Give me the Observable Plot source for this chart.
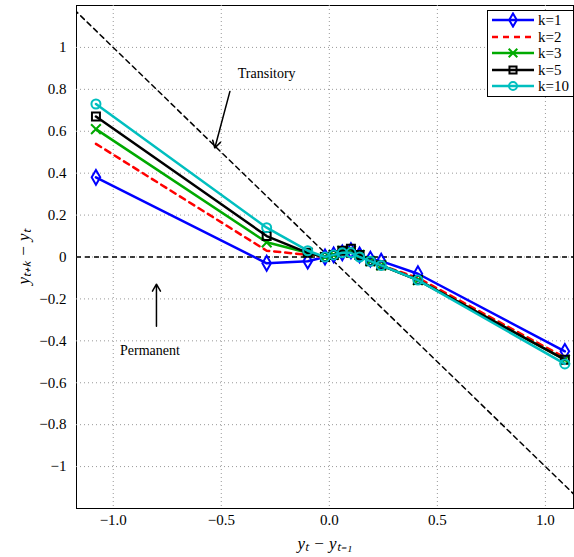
<!DOCTYPE html>
<html><head><meta charset="utf-8">
<script src="https://cdn.jsdelivr.net/npm/d3@7"></script>
<script src="https://cdn.jsdelivr.net/npm/@observablehq/plot@0.6"></script>
<style>
body{margin:0;background:#fff;font-family:"Liberation Serif",serif}
#wrap{position:relative;width:574px;height:557px}
#legend{position:absolute;left:487px;top:10px;border:1px solid #000;background:#fff;padding:1px 4px 1px 2px;font-size:15px;line-height:16.5px}
#legend div{display:flex;align-items:center}
#legend svg{margin-right:2px}
</style></head><body>
<div id="wrap"><div id="chart"></div><div id="legend"></div></div>
<script>
// x positions shared by all horizons
const xs = [-1.08, -0.29, -0.10, -0.02, 0.02, 0.06, 0.10, 0.14, 0.19, 0.24, 0.41, 1.09]
const k1  = [0.38, -0.03, -0.02, 0.00, 0.01, 0.02, 0.03, 0.01, -0.01, -0.02, -0.08, -0.45]
const k2  = [0.54, 0.03, 0.01, 0.00, 0.01, 0.02, 0.03, 0.01, -0.02, -0.04, -0.10, -0.48]
const k3  = [0.61, 0.07, 0.02, 0.00, 0.01, 0.03, 0.03, 0.01, -0.02, -0.04, -0.11, -0.49]
const k5  = [0.67, 0.10, 0.02, 0.00, 0.01, 0.03, 0.04, 0.01, -0.02, -0.04, -0.11, -0.49]
const k10 = [0.73, 0.14, 0.03, 0.00, 0.01, 0.02, 0.02, 0.00, -0.02, -0.04, -0.11, -0.51]
const series = [
  {name: "k=1", ys: k1, color: "#0000ff", symbol: "diamond", dash: null},
  {name: "k=2", ys: k2, color: "#ff0000", symbol: null, dash: "6,5"},
  {name: "k=3", ys: k3, color: "#00aa00", symbol: "times", dash: null},
  {name: "k=5", ys: k5, color: "#000000", symbol: "square", dash: null},
  {name: "k=10", ys: k10, color: "#00bfbf", symbol: "circle", dash: null}
]

const marks = [
  Plot.frame({stroke: "#000"}),
  Plot.gridX([-1, -0.5, 0, 0.5, 1], {stroke: "#999", strokeOpacity: 1, strokeDasharray: "1,3"}),
  Plot.gridY(d3.range(-1, 1.01, 0.2), {stroke: "#999", strokeOpacity: 1, strokeDasharray: "1,3"}),
  Plot.ruleY([0], {stroke: "#000", strokeWidth: 1.5, strokeDasharray: "5,4"}),
  Plot.line([[-1.3, 1.3], [1.3, -1.3]], {x: d => d[0], y: d => d[1], stroke: "#000", strokeWidth: 1.5, strokeDasharray: "5,4", clip: true}),
  Plot.arrow([{x1: -0.46, y1: 0.79, x2: -0.53, y2: 0.52}], {x1: "x1", y1: "y1", x2: "x2", y2: "y2", headLength: 8}),
  Plot.arrow([{x1: -0.8, y1: -0.33, x2: -0.8, y2: -0.13}], {x1: "x1", y1: "y1", x2: "x2", y2: "y2", headLength: 8}),
  Plot.text([{x: -0.29, y: 0.875, t: "Transitory"}], {x: "x", y: "y", text: "t", fontSize: 14, fill: "#000"}),
  Plot.text([{x: -0.83, y: -0.445, t: "Permanent"}], {x: "x", y: "y", text: "t", fontSize: 14, fill: "#000"})
]
for (const s of series) {
  const data = xs.map((x, i) => ({x, y: s.ys[i]}))
  marks.push(Plot.line(data, {x: "x", y: "y", stroke: s.color, strokeWidth: 2.5, strokeDasharray: s.dash}))
  if (s.symbol) marks.push(Plot.dot(data, {x: "x", y: "y", stroke: s.color, strokeWidth: 2, symbol: s.symbol, r: 4.5}))
}

const chart = Plot.plot({
  width: 574, height: 557,
  marginLeft: 76, marginRight: 1, marginTop: 5, marginBottom: 49,
  style: {fontFamily: "Liberation Serif, serif", fontSize: 15, color: "#000"},
  x: {domain: [-1.17, 1.13], ticks: [-1, -0.5, 0, 0.5, 1], tickSize: 0, tickPadding: 6, label: "yₜ − yₜ₋₁", labelAnchor: "center", labelOffset: 40, labelArrow: "none"},
  y: {domain: [-1.2, 1.2], ticks: d3.range(-1, 1.01, 0.2), tickFormat: d => Math.abs(d) < 1e-9 ? "0" : d3.format("~g")(+d.toFixed(1)).replace("-", "−"), tickSize: 0, tickPadding: 10, label: "yₜ₊ₖ − yₜ", labelAnchor: "center", labelOffset: 60, labelArrow: "none"},
  marks
})
d3.select("#chart").append(() => chart)
d3.select(chart).selectAll('[aria-label="x-axis label"] text, [aria-label="y-axis label"] text')
  .style("font-style", "italic").style("font-size", "17px")

const leg = d3.select("#legend")
for (const s of series) {
  const row = leg.append("div")
  const svg = row.append("svg").attr("width", 46).attr("height", 16)
  svg.append("line").attr("x1", 2).attr("x2", 44).attr("y1", 8).attr("y2", 8).attr("stroke", s.color).attr("stroke-width", 2.5).attr("stroke-dasharray", s.dash)
  if (s.symbol) {
    const sym = d3.symbol(d3["symbol" + ({diamond: "Diamond", times: "Times", square: "Square", circle: "Circle"})[s.symbol]], 50)
    svg.append("path").attr("d", sym()).attr("transform", "translate(23,8)").attr("fill", "none").attr("stroke", s.color).attr("stroke-width", 2)
  }
  row.append("span").text(s.name)
}
</script>
</body></html>
